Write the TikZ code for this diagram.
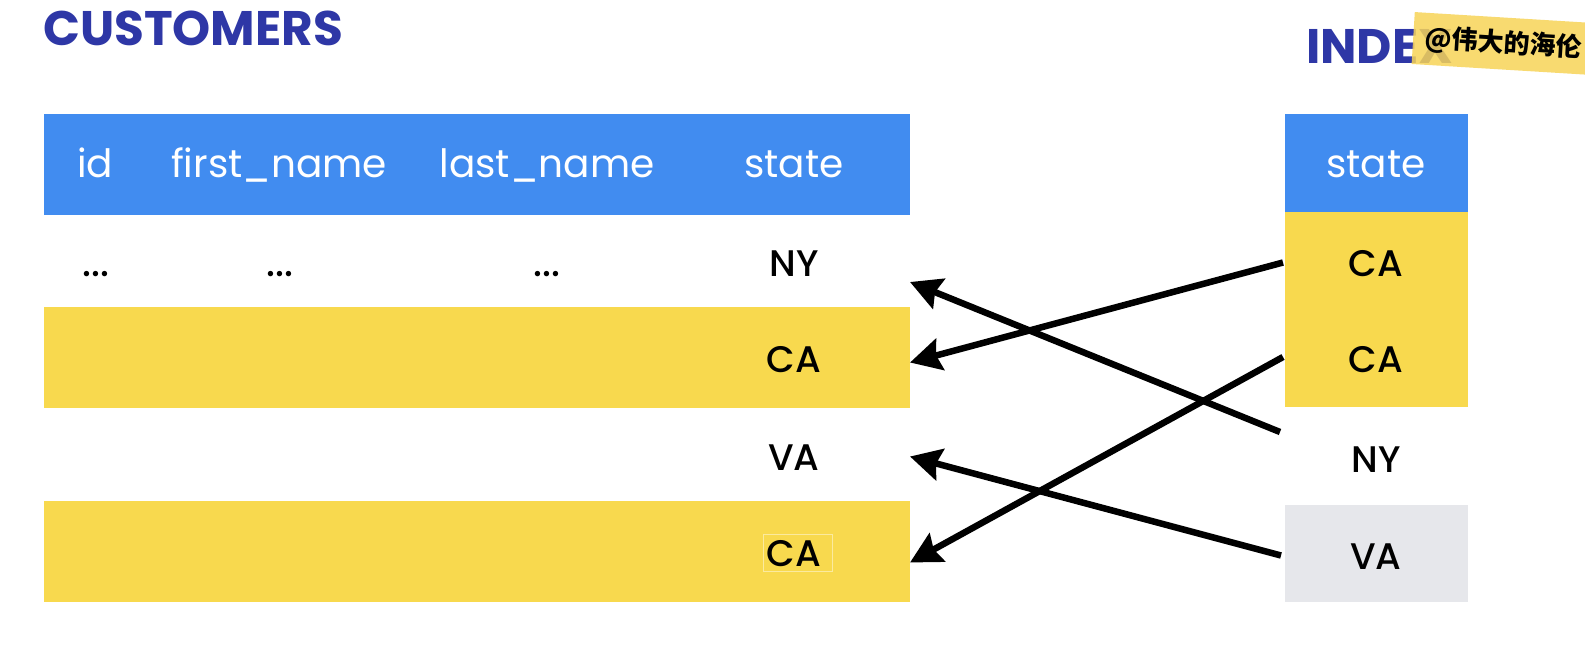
\documentclass[tikz,border=0pt]{standalone}
\usepackage{fontspec}
\setmainfont{Poppins}
\newfontfamily\popmed{Poppins}[UprightFont=*-Medium]
\newfontfamily\cjk{Noto Sans CJK SC}
\usetikzlibrary{arrows.meta,calc}
\definecolor{hdrblue}{HTML}{418CF0}
\definecolor{rowyellow}{HTML}{F8D94E}
\definecolor{rowgray}{HTML}{E6E7EB}
\definecolor{titleblue}{HTML}{2E37A6}
\definecolor{wmyellow}{HTML}{F7D458}
\begin{document}
\begin{tikzpicture}[x=1pt,y=-1pt,
  cell/.style={draw=none,inner sep=0pt,outer sep=0pt},
  lbl/.style={inner sep=0pt,anchor=base,font=\popmed\fontsize{37}{42}\selectfont},
  hlbl/.style={inner sep=0pt,anchor=base,text=white,font=\fontsize{39}{44}\selectfont},
  ttl/.style={inner sep=0pt,anchor=base west,text=titleblue,font=\fontsize{48.5}{54}\selectfont\bfseries},
  link/.style={line width=6.5pt,-{Stealth[length=31pt,width=32pt,inset=4pt]}}]
\clip (0,0) rectangle (1585,665);
\fill[white] (0,0) rectangle (1585,665);
% titles
\node[ttl] (tc) at (43,45) {CUSTOMERS};
\node[ttl] (ti) at (1306,63) {INDEX};
% customers table
\node[cell,fill=hdrblue,minimum width=866pt,minimum height=101pt] (ch) at (477,164.5) {};
\node[cell,minimum width=866pt,minimum height=92pt] (r1) at (477,261) {};
\node[cell,fill=rowyellow,minimum width=866pt,minimum height=101pt] (r2) at (477,357.5) {};
\node[cell,minimum width=866pt,minimum height=93pt] (r3) at (477,454.5) {};
\node[cell,fill=rowyellow,minimum width=866pt,minimum height=101pt] (r4) at (477,551.5) {};
\node[hlbl] (h1) at (95,177) {id};
\node[hlbl] (h2) at (279,177) {first\_name};
\node[hlbl] (h3) at (547,177) {last\_name};
\node[hlbl] (h4) at (794,177) {state};
\node[lbl] (d1) at (96,276) {...};
\node[lbl] (d2) at (280,276) {...};
\node[lbl] (d3) at (547,276) {...};
\node[lbl] (s1) at (794,276) {NY};
\node[lbl] (s2) at (794,372) {CA};
\node[lbl] (s3) at (794,470) {VA};
\node[lbl] (s4) at (794,566) {CA};
\draw[line width=1pt,draw=rowyellow!55!white] (763,534) rectangle (832,571);
% index table
\node[cell,fill=hdrblue,minimum width=183pt,minimum height=98pt] (ih) at (1376.5,163) {};
\node[cell,fill=rowyellow,minimum width=183pt,minimum height=97pt] (i1) at (1376.5,260.5) {};
\node[cell,fill=rowyellow,minimum width=183pt,minimum height=98pt] (i2) at (1376.5,358) {};
\node[cell,minimum width=183pt,minimum height=98pt] (i3) at (1376.5,456) {};
\node[cell,fill=rowgray,minimum width=183pt,minimum height=97pt] (i4) at (1376.5,553.5) {};
\node[hlbl] (ihs) at (1376,177) {state};
\node[lbl] (j1) at (1376,276) {CA};
\node[lbl] (j2) at (1376,372) {CA};
\node[lbl] (j3) at (1376,472) {NY};
\node[lbl] (j4) at (1376,569) {VA};
% arrows
\draw[link] ($(i1.west)+(-2,2)$) -- ($(r2.east)+(0,5)$);
\draw[link] ($(i2.west)+(-2,-1)$) -- ($(r4.east)+(0,11)$);
\draw[link] ($(i3.west)+(-5,-24)$) -- ($(r1.east)+(0,21)$);
\draw[link] ($(i4.west)+(-4,2)$) -- ($(r3.east)+(0,2)$);
% watermark
\node[anchor=west,rotate=-3.5,fill=wmyellow,fill opacity=0.85,text opacity=1,
  inner xsep=12pt,minimum height=52pt,font=\cjk\bfseries\fontsize{26}{30}\selectfont] (wm) at (1413,38) {@伟大的海伦};
\end{tikzpicture}
\end{document}
